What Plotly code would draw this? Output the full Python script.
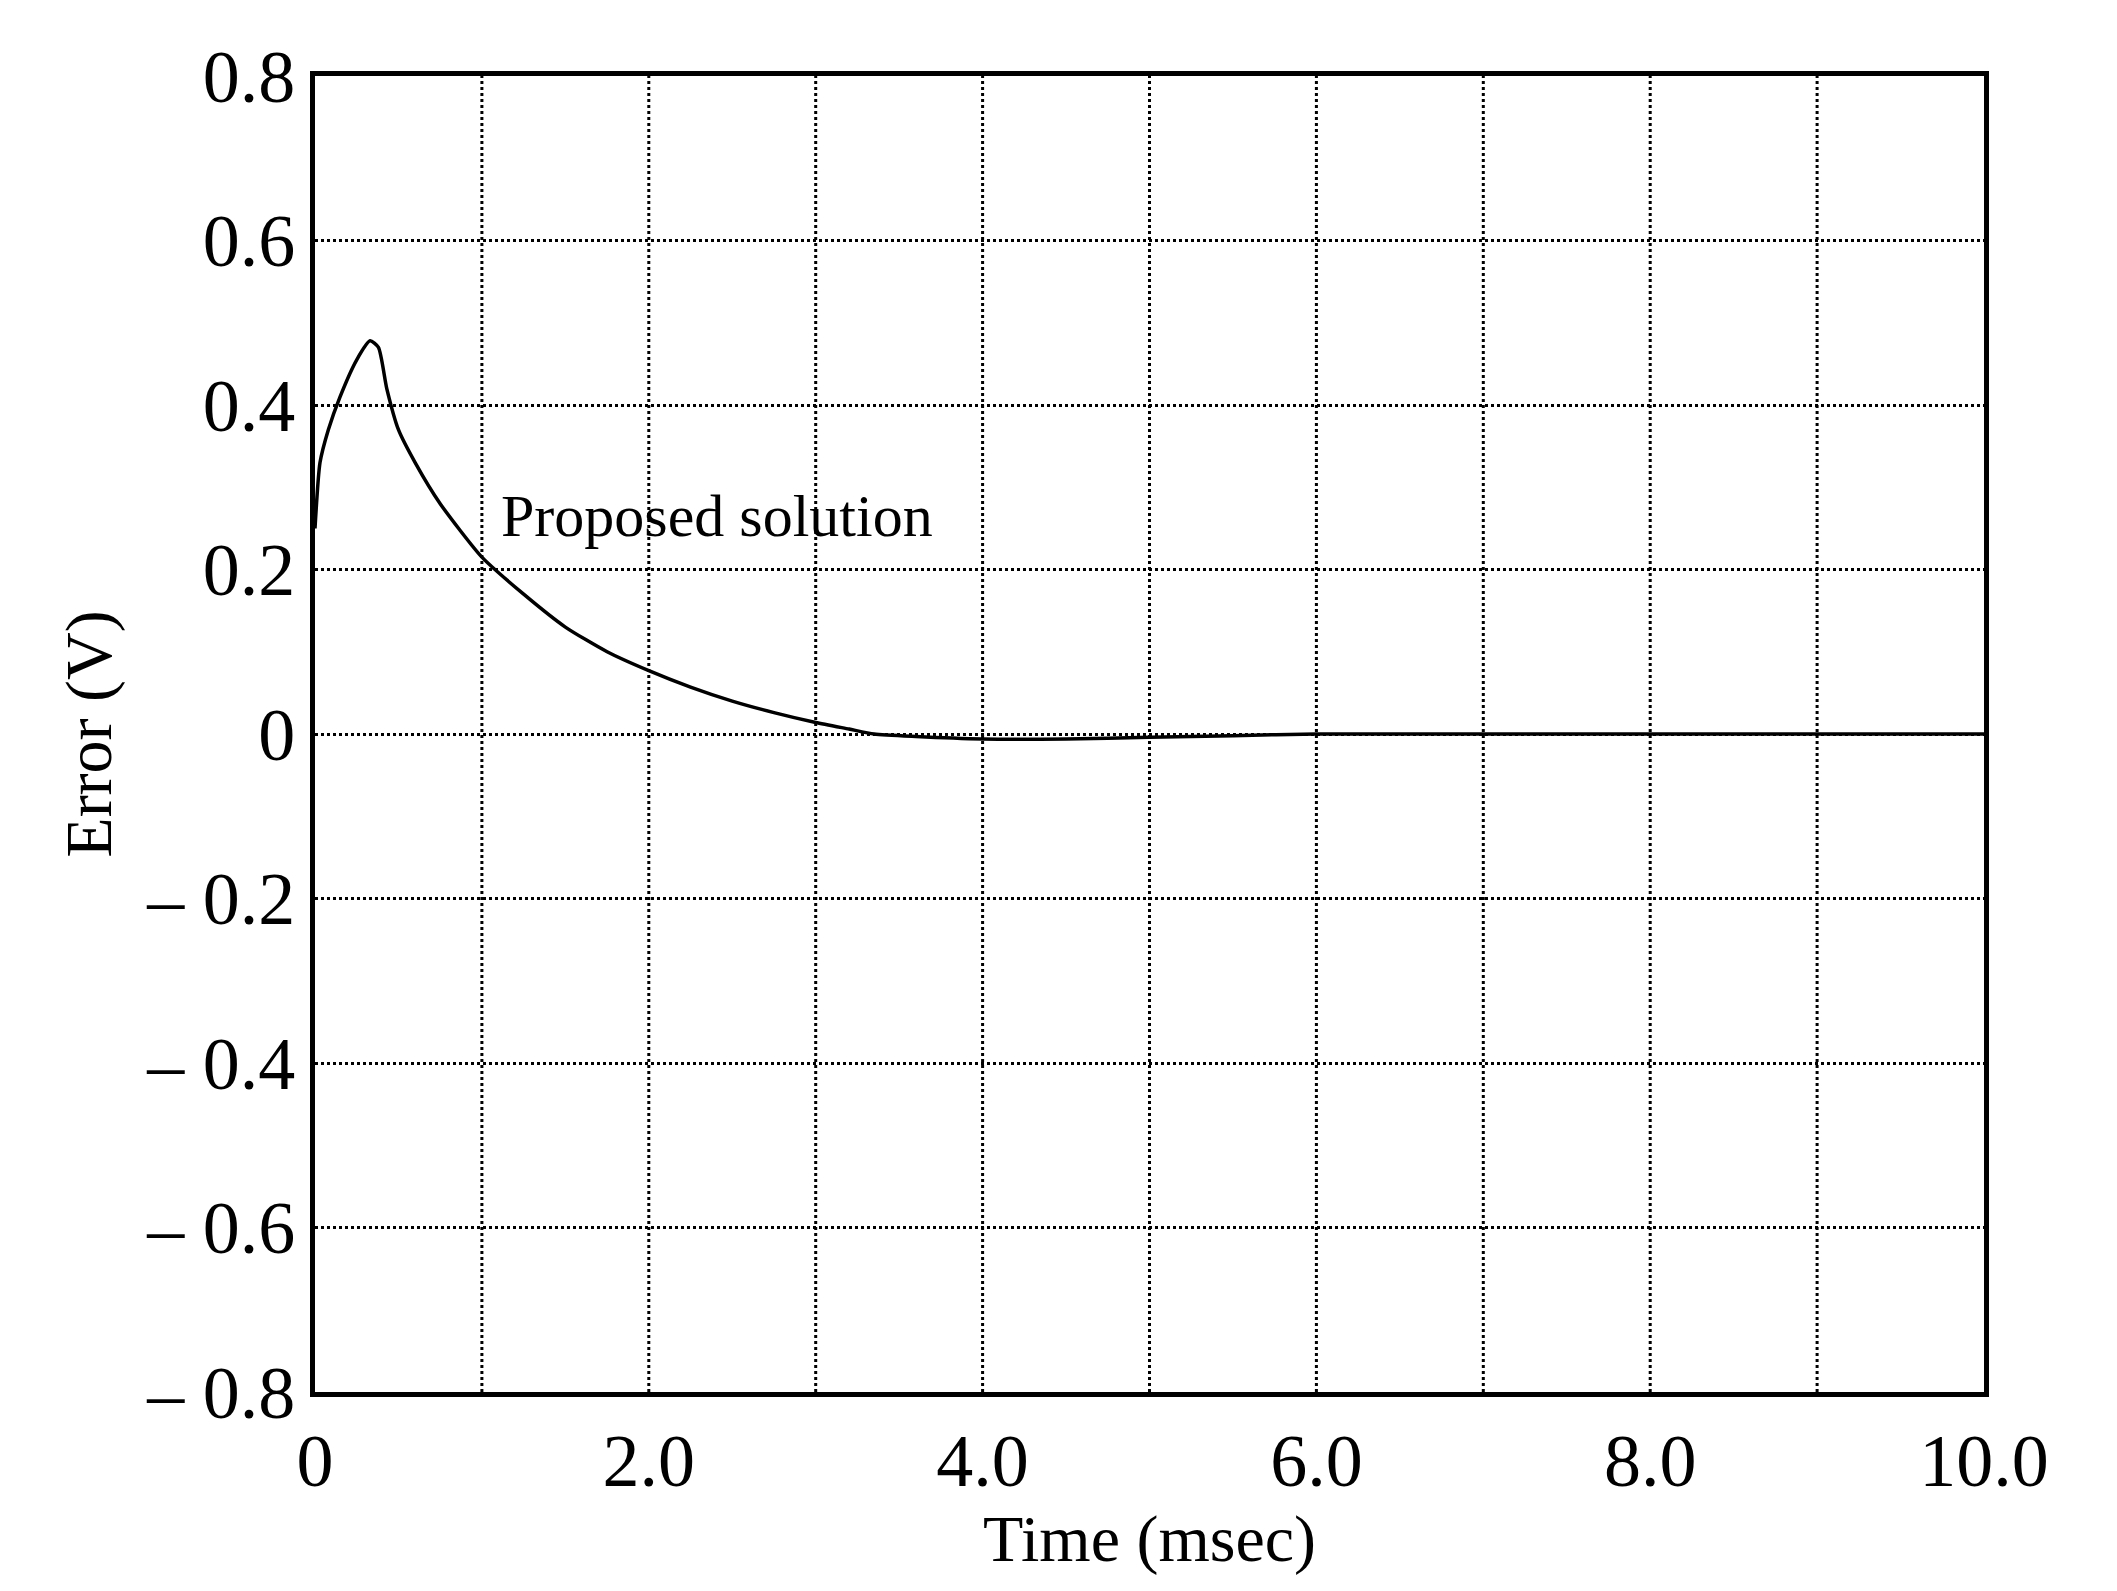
import plotly.graph_objects as go

time_ms = [0.0, 0.03, 0.08, 0.15, 0.25, 0.33, 0.38, 0.43, 0.5, 0.6, 0.75, 1.0, 1.25, 1.5, 1.75, 2.0, 2.25, 2.5, 2.75, 3.0, 3.2, 3.35, 3.6, 4.0, 4.5, 5.0, 5.5, 6.0, 7.0, 8.0, 9.0, 10.0]
error_v = [0.25, 0.33, 0.37, 0.41, 0.455, 0.478, 0.47, 0.42, 0.37, 0.33, 0.28, 0.215, 0.17, 0.13, 0.1, 0.077, 0.057, 0.04, 0.026, 0.014, 0.006, 0.0, -0.003, -0.006, -0.006, -0.004, -0.002, 0.0, 0.0, 0.0, 0.0, 0.0]

x_ticks = [0, 2, 4, 6, 8, 10]
x_ticktext = ["0", "2.0", "4.0", "6.0", "8.0", "10.0"]
y_ticks = [-0.8, -0.6, -0.4, -0.2, 0, 0.2, 0.4, 0.6, 0.8]
y_ticktext = ["– 0.8", "– 0.6", "– 0.4", "– 0.2", "0", "0.2", "0.4", "0.6", "0.8"]

font = "Liberation Serif"
fig = go.Figure()
fig.add_trace(go.Scatter(x=time_ms, y=error_v, mode="lines", line=dict(color="black", width=3.5, shape="spline", smoothing=0.6)))

fig.add_annotation(x=1.1, y=0.265, text="Proposed solution", showarrow=False, xanchor="left",
                   font=dict(family=font, size=60, color="black"))

fig.update_layout(
    width=2117, height=1591, plot_bgcolor="white", paper_bgcolor="white", showlegend=False,
    margin=dict(l=307, r=141, t=68, b=207),
)
fig.update_xaxes(range=[0, 10], tickvals=x_ticks, ticktext=x_ticktext, showline=True, mirror=True,
                 linecolor="black", linewidth=5, ticks="", tickfont=dict(family=font, size=74, color="black"),
                 showgrid=False, zeroline=False,
                 title=dict(text="Time (msec)", font=dict(family=font, size=66, color="black"), standoff=0))
fig.update_yaxes(range=[-0.8, 0.8], tickvals=y_ticks, ticktext=y_ticktext, showline=True, mirror=True,
                 linecolor="black", linewidth=5, ticks="", tickfont=dict(family=font, size=74, color="black"),
                 gridcolor="black", griddash="dot", gridwidth=3, zeroline=False,
                 title=dict(text="Error (V)", font=dict(family=font, size=66, color="black"), standoff=15))
for xv in range(1, 10):
    fig.add_vline(x=xv, line=dict(color="black", width=3, dash="dot"), layer="below")

fig.write_html("out.html")
